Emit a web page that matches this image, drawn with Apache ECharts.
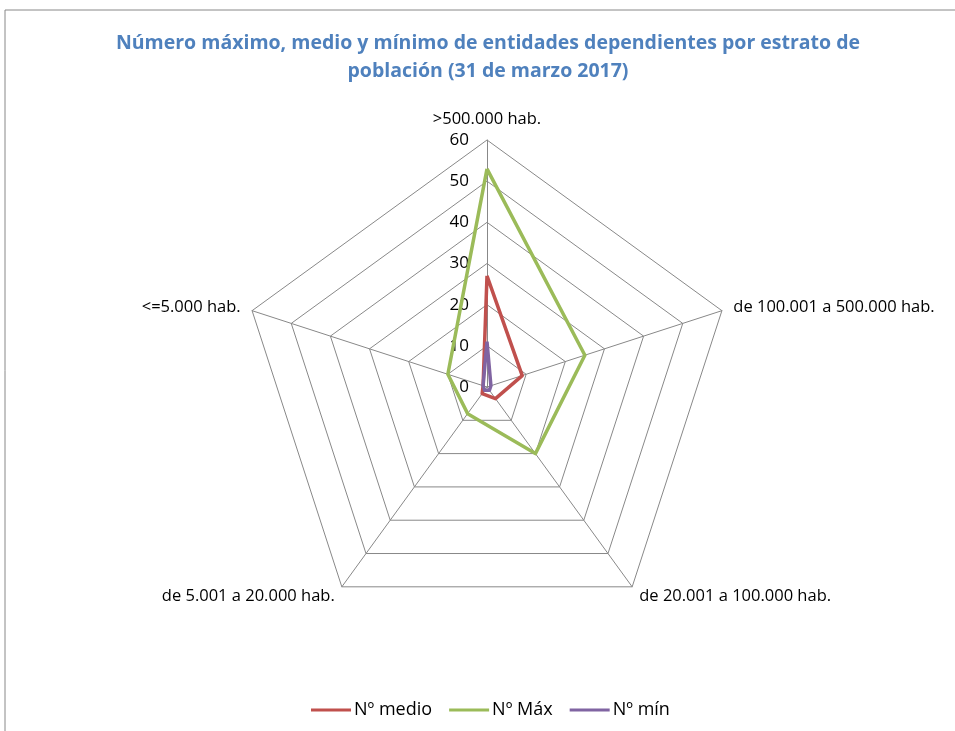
<!DOCTYPE html>
<html>
<head>
<meta charset="utf-8">
<script src="https://cdn.jsdelivr.net/npm/echarts@6/dist/echarts.min.js"></script>
<style>html,body{margin:0;padding:0;background:#fff}#c{width:955px;height:731px}</style>
</head>
<body>
<div id="c"></div>
<script>
// categories in clockwise order starting at top
var categories = ['>500.000 hab.', 'de 100.001 a 500.000 hab.', 'de 20.001 a 100.000 hab.', 'de 5.001 a 20.000 hab.', '<=5.000 hab.'];
var medio = [27, 9, 3.5, 2, 1];
var maximo = [53, 25, 20, 8, 10];
var minimo = [11, 1, 1, 1, 1];
var seriesNames = ['Nº medio', 'Nº Máx', 'Nº mín'];
var colors = ['#C0504D', '#9BBB59', '#8064A2'];
var axisMax = 60;

// ECharts radar runs counter-clockwise; reorder so the picture runs clockwise
var order = [0, 4, 3, 2, 1];
function reorder(arr) { return order.map(function (i) { return arr[i]; }); }

var font = 'Open Sans';
var chart = echarts.init(document.getElementById('c'));
chart.setOption({
  animation: false,
  title: {
    text: 'Número máximo, medio y mínimo de entidades dependientes por estrato de\npoblación (31 de marzo 2017)',
    left: 483, textAlign: 'center', top: 24,
    textStyle: { color: '#4F81BD', fontSize: 19.5, fontWeight: 'bold', fontFamily: font, lineHeight: 28 }
  },
  graphic: [{
    type: 'polyline',
    shape: { points: [[5, 731], [5, 10], [955, 10]] },
    style: { stroke: '#888', lineWidth: 1, fill: null },
    silent: true
  }],
  legend: {
    bottom: 7, left: 306, itemWidth: 40, itemHeight: 3, itemGap: 17,
    icon: 'rect',
    textStyle: { fontSize: 18, fontFamily: font, color: '#000', padding: [0, 0, 0, -2] },
    data: seriesNames
  },
  radar: {
    center: [487, 387],
    radius: 247,
    startAngle: 90,
    shape: 'polygon',
    splitNumber: 6,
    axisName: { color: '#000', fontSize: 16.5, fontFamily: font },
    nameGap: 12,
    splitLine: { lineStyle: { color: '#888', width: 1 } },
    splitArea: { show: false },
    axisLine: { lineStyle: { color: '#888', width: 1 } },
    axisTick: { show: false },
    axisLabel: { show: false, color: '#000', fontSize: 17, fontFamily: font, margin: 18 },
    indicator: reorder(categories).map(function (c, i) {
      return i === 0
        ? { name: c, min: 0, max: axisMax, axisLabel: { show: true } }
        : { name: c, min: 0, max: axisMax };
    })
  },
  series: [{
    type: 'radar',
    symbol: 'none',
    data: [
      { name: seriesNames[0], value: reorder(medio), lineStyle: { color: colors[0], width: 3.5 }, itemStyle: { color: colors[0] } },
      { name: seriesNames[1], value: reorder(maximo), lineStyle: { color: colors[1], width: 3.5 }, itemStyle: { color: colors[1] } },
      { name: seriesNames[2], value: reorder(minimo), lineStyle: { color: colors[2], width: 3.5 }, itemStyle: { color: colors[2] } }
    ]
  }]
});
</script>
</body>
</html>
